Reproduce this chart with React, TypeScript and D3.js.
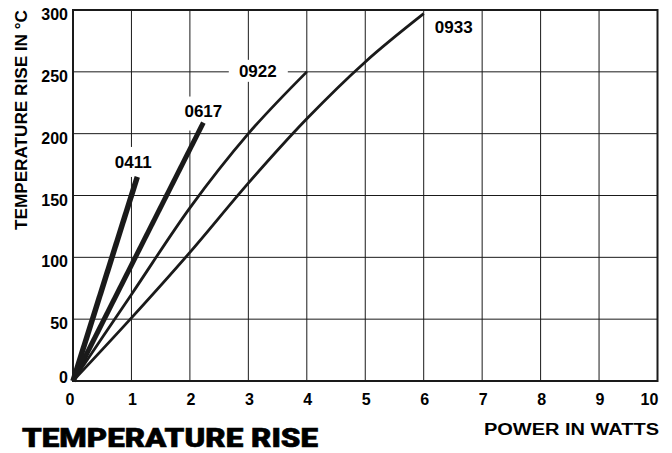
import React from "react";
import * as d3 from "d3";

const powerTicks = [0, 1, 2, 3, 4, 5, 6, 7, 8, 9, 10];
const tempTicks = [0, 50, 100, 150, 200, 250, 300];

const power0411 = [0, 1.1];
const temp0411 = [0, 165];
const power0617 = [0, 2.23];
const temp0617 = [0, 209];
const power0922 = [0, 1, 2, 3, 4];
const temp0922 = [0, 70, 140, 200, 250];
const power0933 = [0, 1, 2, 3, 4, 5, 6];
const temp0933 = [0, 51, 104, 160, 212, 258, 297];

const seriesNames = ["0411", "0617", "0922", "0933"];

const W = 672;
const H = 453;
const left = 73;
const right = 657.5;
const top = 10;
const bottom = 381;

export default function App() {
  const x = d3.scaleLinear().domain([0, 10]).range([left, right]);
  const y = d3.scaleLinear().domain([0, 300]).range([bottom, top]);

  const series = [
    { name: seriesNames[0], xs: power0411, ys: temp0411, w: 5.5 },
    { name: seriesNames[1], xs: power0617, ys: temp0617, w: 5 },
    { name: seriesNames[2], xs: power0922, ys: temp0922, w: 2.8 },
    { name: seriesNames[3], xs: power0933, ys: temp0933, w: 2.8 },
  ];

  const line = d3
    .line<[number, number]>()
    .x((d) => x(d[0]))
    .y((d) => y(d[1]))
    .curve(d3.curveMonotoneX);

  const font = "'Liberation Sans', Arial, Helvetica, sans-serif";
  const ink = "#1a1a1a";

  const labelInfo = (s: any) => {
    const n = s.xs.length - 1;
    const ex = x(s.xs[n]);
    const ey = y(s.ys[n]);
    if (s.name === "0411") return { tx: ex - 4, ty: ey - 9, box: [ex - 24, ey - 30, 40, 30] };
    if (s.name === "0617") return { tx: ex, ty: ey - 6, box: [ex - 23, ey - 26, 46, 34] };
    if (s.name === "0922") return { tx: ex - 49, ty: ey + 5, box: [ex - 78, ey - 12, 59, 22] };
    return { tx: ex + 30, ty: ey + 19, box: null };
  };

  return (
    <svg
      width={W}
      height={H}
      viewBox={`0 0 ${W} ${H}`}
      style={{ position: "absolute", left: 0, top: 0, background: "#fff" }}
    >
      <rect x={0} y={0} width={W} height={H} fill="#fff" />
      {powerTicks.map((t) => (
        <line key={"gx" + t} x1={x(t)} x2={x(t)} y1={top} y2={bottom} stroke={ink} strokeWidth={1} />
      ))}
      {tempTicks.map((t) => (
        <line key={"gy" + t} x1={left} x2={right} y1={y(t)} y2={y(t)} stroke={ink} strokeWidth={1} />
      ))}
      {series.map((s) => {
        const li = labelInfo(s);
        if (!li.box) return null;
        const [bx, by, bw, bh] = li.box as number[];
        return <rect key={"b" + s.name} x={bx} y={by} width={bw} height={bh} fill="#fff" />;
      })}
      <rect x={left} y={top} width={right - left} height={bottom - top} fill="none" stroke={ink} strokeWidth={2} />
      {series.map((s) => (
        <path
          key={"p" + s.name}
          d={line(s.xs.map((v, i) => [v, s.ys[i]] as [number, number])) || ""}
          fill="none"
          stroke={ink}
          strokeWidth={s.w}
          strokeLinecap="butt"
          strokeLinejoin="round"
        />
      ))}
      {series.map((s) => {
        const li = labelInfo(s);
        return (
          <text
            key={"l" + s.name}
            x={li.tx}
            y={li.ty}
            textAnchor="middle"
            fontFamily={font}
            fontWeight="bold"
            fontSize={17}
            fill="#000"
          >
            {s.name}
          </text>
        );
      })}
      {tempTicks.map((t) => (
        <text
          key={"ty" + t}
          x={68}
          y={t === 0 ? y(t) + 2 : y(t) + 10}
          textAnchor="end"
          fontFamily={font}
          fontWeight="bold"
          fontSize={16}
          fill="#000"
        >
          {t}
        </text>
      ))}
      {powerTicks.map((t) => (
        <text
          key={"tx" + t}
          x={t === 0 ? x(t) - 3 : t === 10 ? x(t) - 8 : x(t) + 1}
          y={405}
          textAnchor="middle"
          fontFamily={font}
          fontWeight="bold"
          fontSize={16}
          fill="#000"
        >
          {t}
        </text>
      ))}
      <text
        transform="translate(27,120) rotate(-90)"
        textAnchor="middle"
        fontFamily={font}
        fontWeight="bold"
        fontSize={17}
        textLength={220}
        lengthAdjust="spacingAndGlyphs"
        fill="#000"
      >
        TEMPERATURE RISE IN °C
      </text>
      <text
        x={659}
        y={435}
        textAnchor="end"
        fontFamily={font}
        fontWeight="bold"
        fontSize={16}
        textLength={175}
        lengthAdjust="spacingAndGlyphs"
        fill="#000"
      >
        POWER IN WATTS
      </text>
      <text
        x={22}
        y={447}
        fontFamily="Roboto, Lato, 'Liberation Sans', sans-serif"
        fontWeight={900}
        fontSize={25}
        textLength={296}
        lengthAdjust="spacingAndGlyphs"
        stroke="#000"
        strokeWidth={0.6}
        fill="#000"
      >
        TEMPERATURE RISE
      </text>
    </svg>
  );
}
